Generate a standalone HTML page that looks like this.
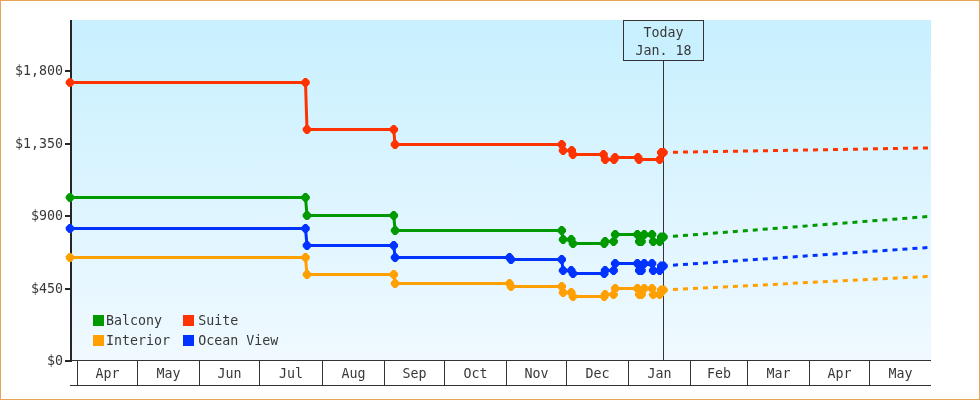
<!DOCTYPE html>
<html lang="en">
<head>
<meta charset="utf-8">
<title>Price History</title>
<style>
html,body{margin:0;padding:0;background:#fff;}
body{width:980px;height:400px;overflow:hidden;}
#chart{display:block;width:980px;height:400px;will-change:transform;}
text{font-family:"DejaVu Sans Mono", "Liberation Mono", monospace;font-size:13.3px;fill:#383838;}
</style>
</head>
<body>
<svg id="chart" width="980" height="400" viewBox="0 0 980 400">
<defs>
<linearGradient id="bg" x1="0" y1="0" x2="0" y2="1">
<stop offset="0" stop-color="#c8f0ff"/>
<stop offset="1" stop-color="#f0f9ff"/>
</linearGradient>
</defs>
<rect x="0" y="0" width="980" height="400" fill="#fff"/>
<rect x="0.5" y="0.5" width="979" height="399" fill="none" stroke="#e9a458" stroke-width="1"/>
<rect x="72" y="20" width="859" height="340" fill="url(#bg)"/>

<g shape-rendering="crispEdges" fill="#262626">
<rect x="70" y="20" width="2" height="342"/>
<rect x="65" y="70" width="5" height="2"/>
<rect x="65" y="143" width="5" height="2"/>
<rect x="65" y="215" width="5" height="2"/>
<rect x="65" y="288" width="5" height="2"/>
<rect x="65" y="360" width="5" height="2"/>
</g>
<g shape-rendering="crispEdges" fill="#333">
<rect x="72" y="360" width="859" height="1"/>
<rect x="70" y="385" width="861" height="1"/>
<rect x="77" y="360" width="1" height="25"/>
<rect x="137" y="360" width="1" height="25"/>
<rect x="199" y="360" width="1" height="25"/>
<rect x="259" y="360" width="1" height="25"/>
<rect x="322" y="360" width="1" height="25"/>
<rect x="384" y="360" width="1" height="25"/>
<rect x="444" y="360" width="1" height="25"/>
<rect x="506" y="360" width="1" height="25"/>
<rect x="566" y="360" width="1" height="25"/>
<rect x="628" y="360" width="1" height="25"/>
<rect x="690" y="360" width="1" height="25"/>
<rect x="747" y="360" width="1" height="25"/>
<rect x="809" y="360" width="1" height="25"/>
<rect x="869" y="360" width="1" height="25"/>
</g>
<rect x="623.5" y="20.5" width="80" height="40" fill="#c9f0ff" stroke="#333" stroke-width="1" shape-rendering="crispEdges"/>
<text x="63" y="75" text-anchor="end">$1,800</text>
<text x="63" y="148" text-anchor="end">$1,350</text>
<text x="63" y="220" text-anchor="end">$900</text>
<text x="63" y="293" text-anchor="end">$450</text>
<text x="63" y="365" text-anchor="end">$0</text>
<text x="107.5" y="378" text-anchor="middle">Apr</text>
<text x="168.5" y="378" text-anchor="middle">May</text>
<text x="229.5" y="378" text-anchor="middle">Jun</text>
<text x="291.0" y="378" text-anchor="middle">Jul</text>
<text x="353.5" y="378" text-anchor="middle">Aug</text>
<text x="414.5" y="378" text-anchor="middle">Sep</text>
<text x="475.5" y="378" text-anchor="middle">Oct</text>
<text x="536.5" y="378" text-anchor="middle">Nov</text>
<text x="597.5" y="378" text-anchor="middle">Dec</text>
<text x="659.5" y="378" text-anchor="middle">Jan</text>
<text x="719.0" y="378" text-anchor="middle">Feb</text>
<text x="778.5" y="378" text-anchor="middle">Mar</text>
<text x="839.5" y="378" text-anchor="middle">Apr</text>
<text x="900.5" y="378" text-anchor="middle">May</text>
<text x="663.5" y="37" text-anchor="middle">Today</text>
<text x="663.5" y="55" text-anchor="middle">Jan. 18</text>
<rect x="663" y="60" width="1" height="300" fill="#333" shape-rendering="crispEdges"/>
<path d="M70.00 257.50L305.50 257.50L307.00 274.50L393.75 274.50L395.10 283.50L509.50 283.50L511.00 286.50L561.70 286.50L563.10 292.50L571.20 292.50L573.00 296.50L604.20 296.50L605.10 294.50L613.60 294.50L615.20 288.50L637.40 288.50L639.30 294.50L641.50 294.50L644.20 288.50L652.00 288.50L653.20 294.50L659.70 294.50L661.30 290.00L663.50 290.00" fill="none" stroke="#ffa000" stroke-width="3" stroke-linejoin="round"/>
<line x1="673" y1="289.58" x2="931" y2="276.20" stroke="#ffa000" stroke-width="3" stroke-dasharray="5 5"/>
<path d="M68.75 252.95L71.25 252.95L74.30 256.25L74.30 258.75L71.25 262.05L68.75 262.05L65.70 258.75L65.70 256.25ZM304.25 252.95L306.75 252.95L309.80 256.25L309.80 258.75L306.75 262.05L304.25 262.05L301.20 258.75L301.20 256.25ZM305.75 269.95L308.25 269.95L311.30 273.25L311.30 275.75L308.25 279.05L305.75 279.05L302.70 275.75L302.70 273.25ZM392.50 269.95L395.00 269.95L398.05 273.25L398.05 275.75L395.00 279.05L392.50 279.05L389.45 275.75L389.45 273.25ZM393.85 278.95L396.35 278.95L399.40 282.25L399.40 284.75L396.35 288.05L393.85 288.05L390.80 284.75L390.80 282.25ZM508.25 278.95L510.75 278.95L513.80 282.25L513.80 284.75L510.75 288.05L508.25 288.05L505.20 284.75L505.20 282.25ZM509.75 281.95L512.25 281.95L515.30 285.25L515.30 287.75L512.25 291.05L509.75 291.05L506.70 287.75L506.70 285.25ZM560.45 281.95L562.95 281.95L566.00 285.25L566.00 287.75L562.95 291.05L560.45 291.05L557.40 287.75L557.40 285.25ZM561.85 287.95L564.35 287.95L567.40 291.25L567.40 293.75L564.35 297.05L561.85 297.05L558.80 293.75L558.80 291.25ZM569.95 287.95L572.45 287.95L575.50 291.25L575.50 293.75L572.45 297.05L569.95 297.05L566.90 293.75L566.90 291.25ZM571.75 291.95L574.25 291.95L577.30 295.25L577.30 297.75L574.25 301.05L571.75 301.05L568.70 297.75L568.70 295.25ZM602.95 291.95L605.45 291.95L608.50 295.25L608.50 297.75L605.45 301.05L602.95 301.05L599.90 297.75L599.90 295.25ZM603.85 289.95L606.35 289.95L609.40 293.25L609.40 295.75L606.35 299.05L603.85 299.05L600.80 295.75L600.80 293.25ZM612.35 289.95L614.85 289.95L617.90 293.25L617.90 295.75L614.85 299.05L612.35 299.05L609.30 295.75L609.30 293.25ZM613.95 283.95L616.45 283.95L619.50 287.25L619.50 289.75L616.45 293.05L613.95 293.05L610.90 289.75L610.90 287.25ZM636.15 283.95L638.65 283.95L641.70 287.25L641.70 289.75L638.65 293.05L636.15 293.05L633.10 289.75L633.10 287.25ZM638.05 289.95L640.55 289.95L643.60 293.25L643.60 295.75L640.55 299.05L638.05 299.05L635.00 295.75L635.00 293.25ZM640.25 289.95L642.75 289.95L645.80 293.25L645.80 295.75L642.75 299.05L640.25 299.05L637.20 295.75L637.20 293.25ZM642.95 283.95L645.45 283.95L648.50 287.25L648.50 289.75L645.45 293.05L642.95 293.05L639.90 289.75L639.90 287.25ZM650.75 283.95L653.25 283.95L656.30 287.25L656.30 289.75L653.25 293.05L650.75 293.05L647.70 289.75L647.70 287.25ZM651.95 289.95L654.45 289.95L657.50 293.25L657.50 295.75L654.45 299.05L651.95 299.05L648.90 295.75L648.90 293.25ZM658.45 289.95L660.95 289.95L664.00 293.25L664.00 295.75L660.95 299.05L658.45 299.05L655.40 295.75L655.40 293.25ZM660.05 285.45L662.55 285.45L665.60 288.75L665.60 291.25L662.55 294.55L660.05 294.55L657.00 291.25L657.00 288.75ZM662.25 285.45L664.75 285.45L667.80 288.75L667.80 291.25L664.75 294.55L662.25 294.55L659.20 291.25L659.20 288.75Z" fill="#ffa000"/>
<path d="M70.00 228.50L305.50 228.50L307.00 245.50L393.75 245.50L395.10 257.50L509.50 257.50L511.00 259.50L561.70 259.50L563.10 270.50L571.20 270.50L573.00 273.50L604.20 273.50L605.10 270.50L613.60 270.50L615.20 263.50L637.40 263.50L639.30 270.50L641.50 270.50L644.20 263.50L652.00 263.50L653.20 270.50L659.70 270.50L661.30 266.00L663.50 266.00" fill="none" stroke="#0033ff" stroke-width="3" stroke-linejoin="round"/>
<line x1="673" y1="265.21" x2="931" y2="247.30" stroke="#0033ff" stroke-width="3" stroke-dasharray="5 5"/>
<path d="M68.75 223.95L71.25 223.95L74.30 227.25L74.30 229.75L71.25 233.05L68.75 233.05L65.70 229.75L65.70 227.25ZM304.25 223.95L306.75 223.95L309.80 227.25L309.80 229.75L306.75 233.05L304.25 233.05L301.20 229.75L301.20 227.25ZM305.75 240.95L308.25 240.95L311.30 244.25L311.30 246.75L308.25 250.05L305.75 250.05L302.70 246.75L302.70 244.25ZM392.50 240.95L395.00 240.95L398.05 244.25L398.05 246.75L395.00 250.05L392.50 250.05L389.45 246.75L389.45 244.25ZM393.85 252.95L396.35 252.95L399.40 256.25L399.40 258.75L396.35 262.05L393.85 262.05L390.80 258.75L390.80 256.25ZM508.25 252.95L510.75 252.95L513.80 256.25L513.80 258.75L510.75 262.05L508.25 262.05L505.20 258.75L505.20 256.25ZM509.75 254.95L512.25 254.95L515.30 258.25L515.30 260.75L512.25 264.05L509.75 264.05L506.70 260.75L506.70 258.25ZM560.45 254.95L562.95 254.95L566.00 258.25L566.00 260.75L562.95 264.05L560.45 264.05L557.40 260.75L557.40 258.25ZM561.85 265.95L564.35 265.95L567.40 269.25L567.40 271.75L564.35 275.05L561.85 275.05L558.80 271.75L558.80 269.25ZM569.95 265.95L572.45 265.95L575.50 269.25L575.50 271.75L572.45 275.05L569.95 275.05L566.90 271.75L566.90 269.25ZM571.75 268.95L574.25 268.95L577.30 272.25L577.30 274.75L574.25 278.05L571.75 278.05L568.70 274.75L568.70 272.25ZM602.95 268.95L605.45 268.95L608.50 272.25L608.50 274.75L605.45 278.05L602.95 278.05L599.90 274.75L599.90 272.25ZM603.85 265.95L606.35 265.95L609.40 269.25L609.40 271.75L606.35 275.05L603.85 275.05L600.80 271.75L600.80 269.25ZM612.35 265.95L614.85 265.95L617.90 269.25L617.90 271.75L614.85 275.05L612.35 275.05L609.30 271.75L609.30 269.25ZM613.95 258.95L616.45 258.95L619.50 262.25L619.50 264.75L616.45 268.05L613.95 268.05L610.90 264.75L610.90 262.25ZM636.15 258.95L638.65 258.95L641.70 262.25L641.70 264.75L638.65 268.05L636.15 268.05L633.10 264.75L633.10 262.25ZM638.05 265.95L640.55 265.95L643.60 269.25L643.60 271.75L640.55 275.05L638.05 275.05L635.00 271.75L635.00 269.25ZM640.25 265.95L642.75 265.95L645.80 269.25L645.80 271.75L642.75 275.05L640.25 275.05L637.20 271.75L637.20 269.25ZM642.95 258.95L645.45 258.95L648.50 262.25L648.50 264.75L645.45 268.05L642.95 268.05L639.90 264.75L639.90 262.25ZM650.75 258.95L653.25 258.95L656.30 262.25L656.30 264.75L653.25 268.05L650.75 268.05L647.70 264.75L647.70 262.25ZM651.95 265.95L654.45 265.95L657.50 269.25L657.50 271.75L654.45 275.05L651.95 275.05L648.90 271.75L648.90 269.25ZM658.45 265.95L660.95 265.95L664.00 269.25L664.00 271.75L660.95 275.05L658.45 275.05L655.40 271.75L655.40 269.25ZM660.05 261.45L662.55 261.45L665.60 264.75L665.60 267.25L662.55 270.55L660.05 270.55L657.00 267.25L657.00 264.75ZM662.25 261.45L664.75 261.45L667.80 264.75L667.80 267.25L664.75 270.55L662.25 270.55L659.20 267.25L659.20 264.75Z" fill="#0033ff"/>
<path d="M70.00 197.50L305.50 197.50L307.00 215.50L393.75 215.50L395.10 230.50L561.70 230.50L563.10 239.50L571.20 239.50L573.00 243.50L604.20 243.50L605.10 241.50L613.60 241.50L615.20 234.50L637.40 234.50L639.30 241.50L641.50 241.50L644.20 234.50L652.00 234.50L653.20 241.50L659.70 241.50L661.30 237.00L663.50 237.00" fill="none" stroke="#009900" stroke-width="3" stroke-linejoin="round"/>
<line x1="673" y1="236.32" x2="931" y2="216.30" stroke="#009900" stroke-width="3" stroke-dasharray="5 5"/>
<path d="M68.75 192.95L71.25 192.95L74.30 196.25L74.30 198.75L71.25 202.05L68.75 202.05L65.70 198.75L65.70 196.25ZM304.25 192.95L306.75 192.95L309.80 196.25L309.80 198.75L306.75 202.05L304.25 202.05L301.20 198.75L301.20 196.25ZM305.75 210.95L308.25 210.95L311.30 214.25L311.30 216.75L308.25 220.05L305.75 220.05L302.70 216.75L302.70 214.25ZM392.50 210.95L395.00 210.95L398.05 214.25L398.05 216.75L395.00 220.05L392.50 220.05L389.45 216.75L389.45 214.25ZM393.85 225.95L396.35 225.95L399.40 229.25L399.40 231.75L396.35 235.05L393.85 235.05L390.80 231.75L390.80 229.25ZM560.45 225.95L562.95 225.95L566.00 229.25L566.00 231.75L562.95 235.05L560.45 235.05L557.40 231.75L557.40 229.25ZM561.85 234.95L564.35 234.95L567.40 238.25L567.40 240.75L564.35 244.05L561.85 244.05L558.80 240.75L558.80 238.25ZM569.95 234.95L572.45 234.95L575.50 238.25L575.50 240.75L572.45 244.05L569.95 244.05L566.90 240.75L566.90 238.25ZM571.75 238.95L574.25 238.95L577.30 242.25L577.30 244.75L574.25 248.05L571.75 248.05L568.70 244.75L568.70 242.25ZM602.95 238.95L605.45 238.95L608.50 242.25L608.50 244.75L605.45 248.05L602.95 248.05L599.90 244.75L599.90 242.25ZM603.85 236.95L606.35 236.95L609.40 240.25L609.40 242.75L606.35 246.05L603.85 246.05L600.80 242.75L600.80 240.25ZM612.35 236.95L614.85 236.95L617.90 240.25L617.90 242.75L614.85 246.05L612.35 246.05L609.30 242.75L609.30 240.25ZM613.95 229.95L616.45 229.95L619.50 233.25L619.50 235.75L616.45 239.05L613.95 239.05L610.90 235.75L610.90 233.25ZM636.15 229.95L638.65 229.95L641.70 233.25L641.70 235.75L638.65 239.05L636.15 239.05L633.10 235.75L633.10 233.25ZM638.05 236.95L640.55 236.95L643.60 240.25L643.60 242.75L640.55 246.05L638.05 246.05L635.00 242.75L635.00 240.25ZM640.25 236.95L642.75 236.95L645.80 240.25L645.80 242.75L642.75 246.05L640.25 246.05L637.20 242.75L637.20 240.25ZM642.95 229.95L645.45 229.95L648.50 233.25L648.50 235.75L645.45 239.05L642.95 239.05L639.90 235.75L639.90 233.25ZM650.75 229.95L653.25 229.95L656.30 233.25L656.30 235.75L653.25 239.05L650.75 239.05L647.70 235.75L647.70 233.25ZM651.95 236.95L654.45 236.95L657.50 240.25L657.50 242.75L654.45 246.05L651.95 246.05L648.90 242.75L648.90 240.25ZM658.45 236.95L660.95 236.95L664.00 240.25L664.00 242.75L660.95 246.05L658.45 246.05L655.40 242.75L655.40 240.25ZM660.05 232.45L662.55 232.45L665.60 235.75L665.60 238.25L662.55 241.55L660.05 241.55L657.00 238.25L657.00 235.75ZM662.25 232.45L664.75 232.45L667.80 235.75L667.80 238.25L664.75 241.55L662.25 241.55L659.20 238.25L659.20 235.75Z" fill="#009900"/>
<path d="M70.00 82.50L305.50 82.50L307.00 129.50L393.75 129.50L395.00 144.50L561.70 144.50L563.10 150.50L571.70 150.50L572.90 154.50L603.50 154.50L605.20 159.50L614.00 159.50L615.00 157.50L638.00 157.50L639.00 159.50L659.70 159.50L661.30 152.50L663.50 152.50" fill="none" stroke="#ff3300" stroke-width="3" stroke-linejoin="round"/>
<line x1="673" y1="152.23" x2="931" y2="147.90" stroke="#ff3300" stroke-width="3" stroke-dasharray="5 5"/>
<path d="M68.75 77.95L71.25 77.95L74.30 81.25L74.30 83.75L71.25 87.05L68.75 87.05L65.70 83.75L65.70 81.25ZM304.25 77.95L306.75 77.95L309.80 81.25L309.80 83.75L306.75 87.05L304.25 87.05L301.20 83.75L301.20 81.25ZM305.75 124.95L308.25 124.95L311.30 128.25L311.30 130.75L308.25 134.05L305.75 134.05L302.70 130.75L302.70 128.25ZM392.50 124.95L395.00 124.95L398.05 128.25L398.05 130.75L395.00 134.05L392.50 134.05L389.45 130.75L389.45 128.25ZM393.75 139.95L396.25 139.95L399.30 143.25L399.30 145.75L396.25 149.05L393.75 149.05L390.70 145.75L390.70 143.25ZM560.45 139.95L562.95 139.95L566.00 143.25L566.00 145.75L562.95 149.05L560.45 149.05L557.40 145.75L557.40 143.25ZM561.85 145.95L564.35 145.95L567.40 149.25L567.40 151.75L564.35 155.05L561.85 155.05L558.80 151.75L558.80 149.25ZM570.45 145.95L572.95 145.95L576.00 149.25L576.00 151.75L572.95 155.05L570.45 155.05L567.40 151.75L567.40 149.25ZM571.65 149.95L574.15 149.95L577.20 153.25L577.20 155.75L574.15 159.05L571.65 159.05L568.60 155.75L568.60 153.25ZM602.25 149.95L604.75 149.95L607.80 153.25L607.80 155.75L604.75 159.05L602.25 159.05L599.20 155.75L599.20 153.25ZM603.95 154.95L606.45 154.95L609.50 158.25L609.50 160.75L606.45 164.05L603.95 164.05L600.90 160.75L600.90 158.25ZM612.75 154.95L615.25 154.95L618.30 158.25L618.30 160.75L615.25 164.05L612.75 164.05L609.70 160.75L609.70 158.25ZM613.75 152.95L616.25 152.95L619.30 156.25L619.30 158.75L616.25 162.05L613.75 162.05L610.70 158.75L610.70 156.25ZM636.75 152.95L639.25 152.95L642.30 156.25L642.30 158.75L639.25 162.05L636.75 162.05L633.70 158.75L633.70 156.25ZM637.75 154.95L640.25 154.95L643.30 158.25L643.30 160.75L640.25 164.05L637.75 164.05L634.70 160.75L634.70 158.25ZM658.45 154.95L660.95 154.95L664.00 158.25L664.00 160.75L660.95 164.05L658.45 164.05L655.40 160.75L655.40 158.25ZM660.05 147.95L662.55 147.95L665.60 151.25L665.60 153.75L662.55 157.05L660.05 157.05L657.00 153.75L657.00 151.25ZM662.25 147.95L664.75 147.95L667.80 151.25L667.80 153.75L664.75 157.05L662.25 157.05L659.20 153.75L659.20 151.25Z" fill="#ff3300"/>
<rect x="93" y="315" width="11" height="11" fill="#009900" shape-rendering="crispEdges"/>
<text x="105.9" y="325">Balcony</text>
<rect x="183" y="315" width="11" height="11" fill="#ff3300" shape-rendering="crispEdges"/>
<text x="198.3" y="325">Suite</text>
<rect x="93" y="335" width="11" height="11" fill="#ffa000" shape-rendering="crispEdges"/>
<text x="105.9" y="345">Interior</text>
<rect x="183" y="335" width="11" height="11" fill="#0033ff" shape-rendering="crispEdges"/>
<text x="198.3" y="345">Ocean View</text>
</svg>
</body>
</html>
